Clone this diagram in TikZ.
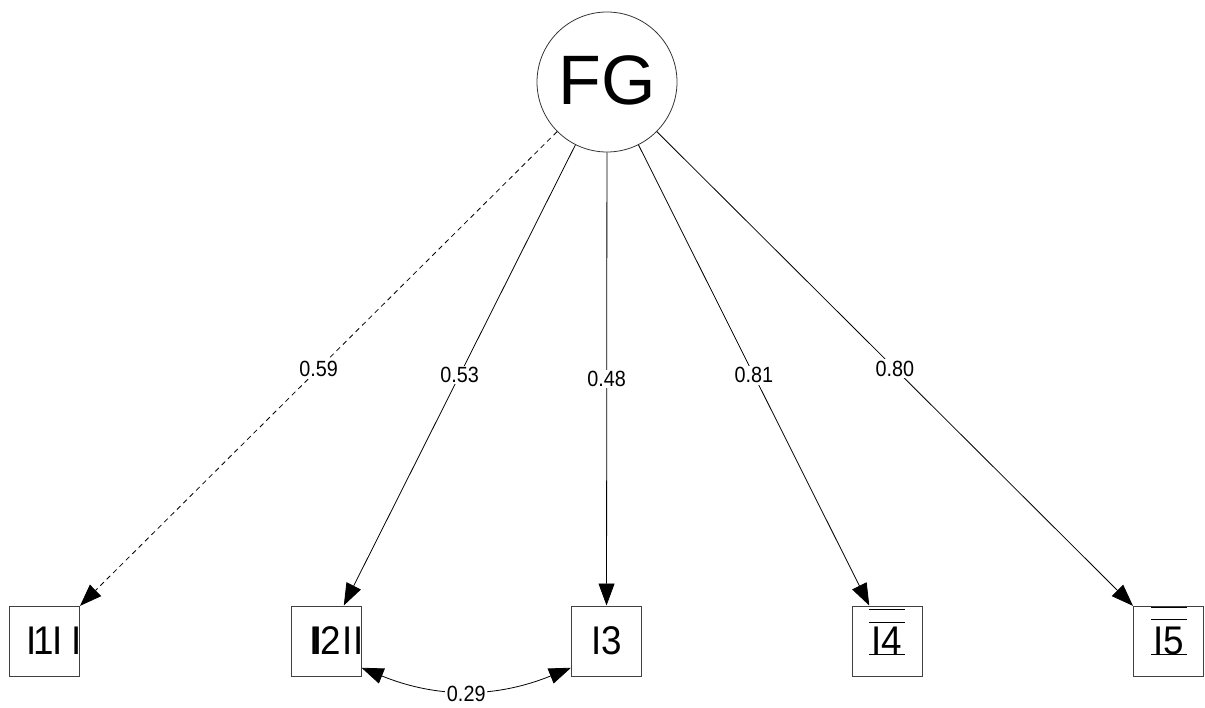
\documentclass[tikz,border=0pt]{standalone}
\usepackage{fontspec}
\setmainfont{Liberation Sans}
\usetikzlibrary{arrows.meta}
\newcommand{\nar}[1]{\scalebox{0.9}[1]{#1}}
\newcommand{\bnar}[1]{\scalebox{0.92}[1]{#1}}
\begin{document}
\begin{tikzpicture}[x=1pt,y=1pt,
 lat/.style={circle,draw=black!80,line width=0.8pt,minimum size=140pt,inner sep=0pt,font=\fontsize{70}{74}\selectfont},
 obs/.style={rectangle,draw=black!75,line width=1pt,minimum size=70pt,inner sep=0pt,font=\fontsize{40}{44}\selectfont},
 load/.style={-{Triangle[length=22pt,width=16pt]},line width=0.8pt},
 cov/.style={{Triangle[length=22pt,width=16pt]}-{Triangle[length=22pt,width=16pt]},line width=0.8pt},
 lab/.style={fill=white,inner sep=1.5pt,font=\fontsize{22}{24}\selectfont},
 deco/.style={line width=1pt}]
\useasboundingbox (0,0) rectangle (1205,-707);
\node[lat] (FG) at (607,-82) {\raisebox{3pt}{FG}};
\node[obs] (I1) at (44.5,-641) {\bnar{I\kern-3.3pt 1\kern-1.8pt I\rlap{\hspace{9.6pt}I}}};
\node[obs] (I2) at (326,-641) {\bnar{\kern11.7pt I\kern-7.8pt I\kern-2.3pt 2\kern1.5pt I\rlap{\hspace{0.9pt}I}}};
\node[obs] (I3) at (606.5,-641) {\bnar{I3}};
\node[obs] (I4) at (887,-641) {\bnar{I4}};
\node[obs] (I5) at (1168.5,-641) {\bnar{I5}};
\draw[load,dash pattern=on 5pt off 4pt] (FG) -- node[lab] {\nar{0.59}} (I1);
\draw[load] (FG) -- node[lab] {\nar{0.53}} (I2);
\draw[load] (FG) -- node[lab] {\nar{0.48}} (I3);
\draw[load] (FG) -- node[lab] {\nar{0.81}} (I4);
\draw[load] (FG) -- node[lab] {\nar{0.80}} (I5);
\draw[cov] (I2.-37) to[out=-22,in=202] node[lab,pos=0.5,yshift=-3pt] {\nar{0.29}} (I3.217);
% stray strokes inside boxes 4 and 5
\draw[deco] ([xshift=-18pt,yshift=32pt]I4.center) -- ++(36,0);
\draw[deco] ([xshift=-18pt,yshift=19pt]I4.center) -- ++(36,0);
\draw[deco] ([xshift=-18pt,yshift=-13pt]I4.center) -- ++(36,0);
\draw[deco] ([xshift=-17.5pt,yshift=34pt]I5.center) -- ++(36,0);
\draw[deco] ([xshift=-17.5pt,yshift=22pt]I5.center) -- ++(36,0);
\draw[deco] ([xshift=-17.5pt,yshift=-13pt]I5.center) -- ++(36,0);
\end{tikzpicture}
\end{document}
